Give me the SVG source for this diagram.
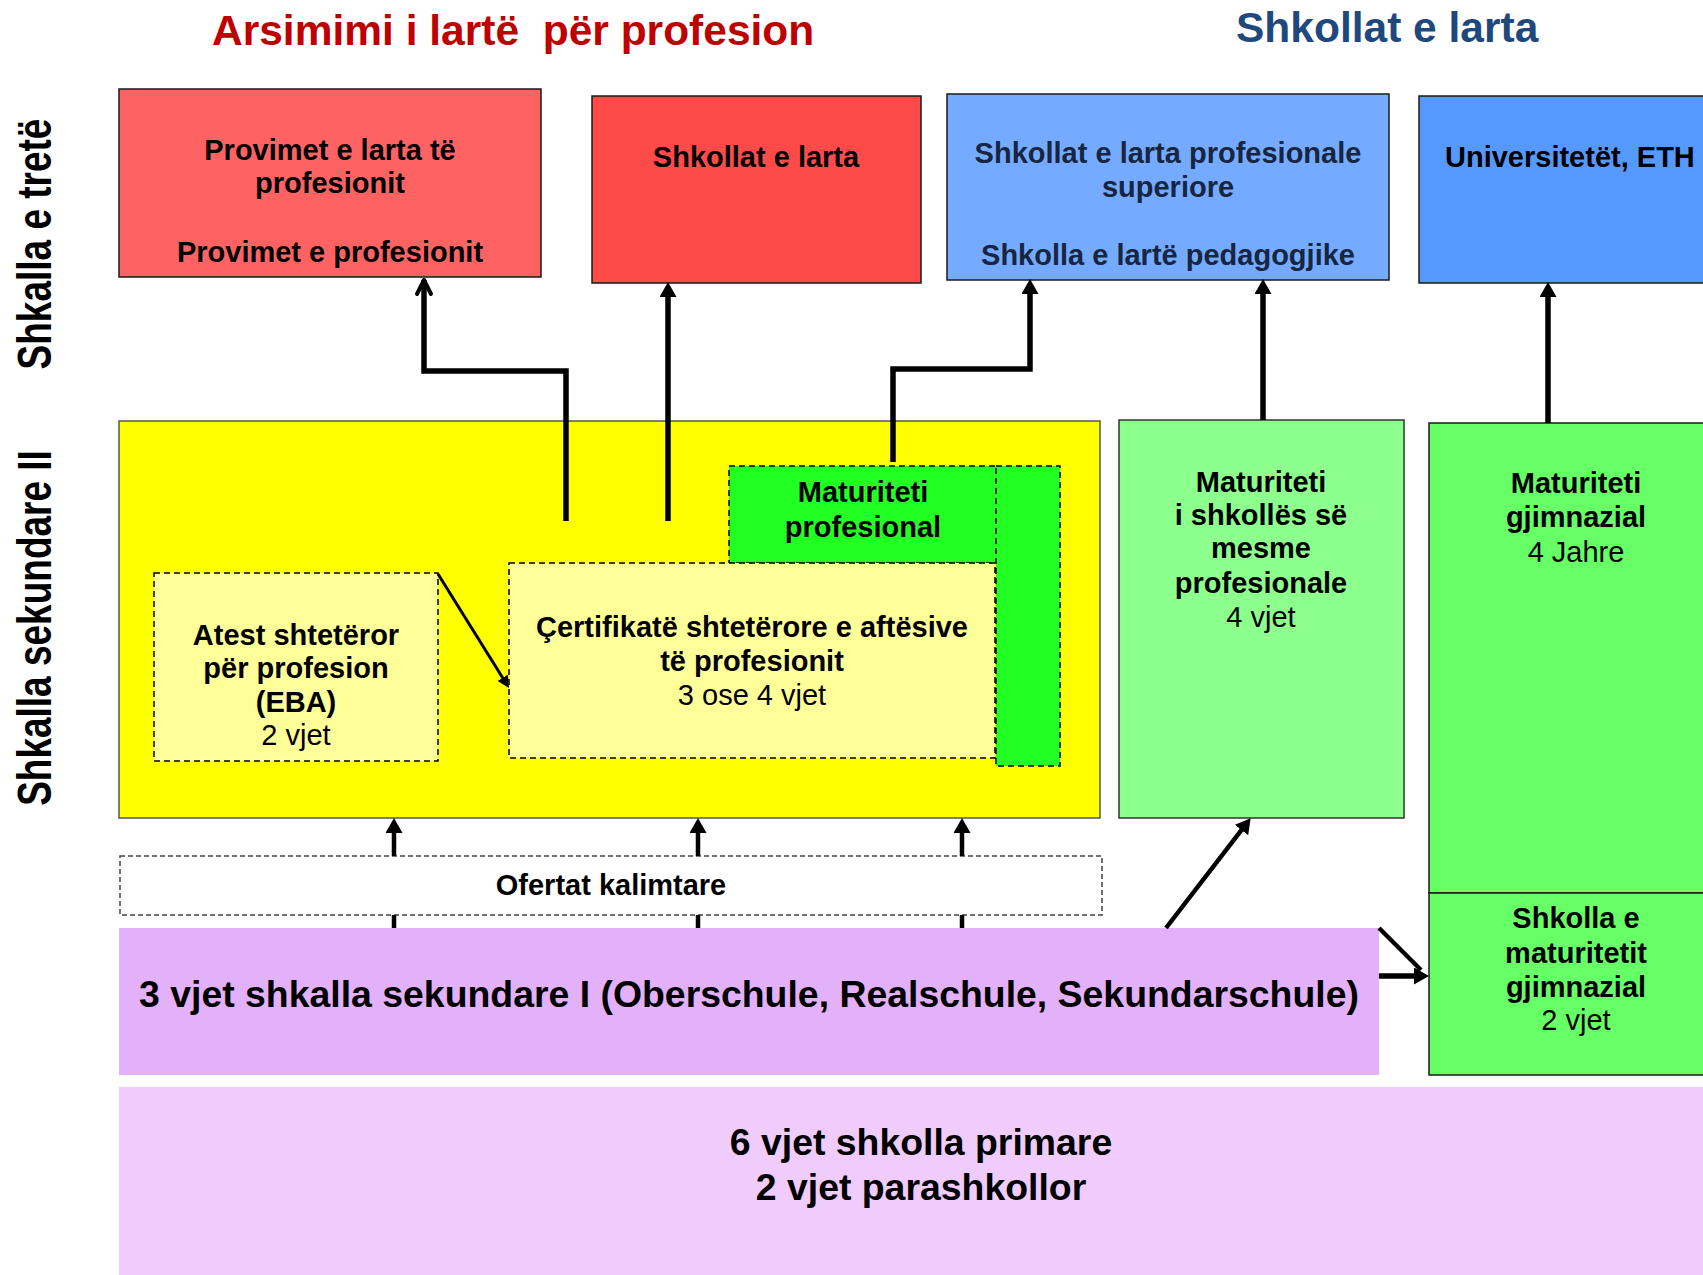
<svg xmlns="http://www.w3.org/2000/svg" width="1703" height="1275" viewBox="0 0 1703 1275">
<style>
.t{font-family:"Liberation Sans",Arial,sans-serif;text-anchor:middle;fill:#000;font-size:29px}
.b{font-weight:bold}
.big{font-size:37.4px;font-weight:bold}
.title{font-size:42.5px;font-weight:bold;text-anchor:start;white-space:pre}
.lab{font-size:37px;font-weight:bold}
.box{stroke:#1a1a1a;stroke-width:1.5}
.dash{stroke:#000;stroke-width:1.5;stroke-dasharray:6 4}
.conn{stroke:#000;stroke-width:5.5;fill:none}
.thin{stroke:#000;stroke-width:4.5;fill:none}
</style>
<defs>
<marker id="ah" viewBox="0 0 15 17" refX="4" refY="8.5" markerWidth="15" markerHeight="17" markerUnits="userSpaceOnUse" orient="auto">
<path d="M0,0 L15,8.5 L0,17 z" fill="#000"/>
</marker>
<marker id="ahs" viewBox="0 0 12 12" refX="4" refY="6" markerWidth="12" markerHeight="12" markerUnits="userSpaceOnUse" orient="auto">
<path d="M0,0 L12,6 L0,12 z" fill="#000"/>
</marker>
<marker id="open" viewBox="0 0 20 20" refX="17" refY="10" markerWidth="20" markerHeight="20" markerUnits="userSpaceOnUse" orient="auto">
<path d="M3,3 L17,10 L3,17" fill="none" stroke="#000" stroke-width="4" stroke-linecap="round" stroke-linejoin="round"/>
</marker>
</defs>

<g id="titles">
<text class="t title" x="212" y="45" style="fill:#c00000">Arsimimi i lartë  për profesion</text>
<text class="t title" x="1236" y="42" style="fill:#1f497d">Shkollat e larta</text>
</g>

<g id="label-tertiary">
<text class="t lab" transform="translate(51,244) rotate(-90) scale(1,1.3)" x="0" y="0">Shkalla e tretë</text>
</g>
<g id="label-secondary2">
<text class="t lab" transform="translate(51,628) rotate(-90) scale(1,1.3)" x="0" y="0">Shkalla sekundare II</text>
</g>

<g id="node-provimet">
<rect class="box" x="119" y="89" width="422" height="188" fill="#ff6262"/>
<text class="t b" x="330" y="160">Provimet e larta të</text>
<text class="t b" x="330" y="193">profesionit</text>
<text class="t b" x="330" y="262">Provimet e profesionit</text>
</g>
<g id="node-shkollat-red">
<rect class="box" x="592" y="96" width="329" height="187" fill="#ff4a4a"/>
<text class="t b" x="756" y="167">Shkollat e larta</text>
</g>
<g id="node-shkollat-prof">
<rect class="box" x="947" y="94" width="442" height="186" fill="#74aaff"/>
<text class="t b" x="1168" y="163" style="fill:#17253f">Shkollat e larta profesionale</text>
<text class="t b" x="1168" y="197" style="fill:#17253f">superiore</text>
<text class="t b" x="1168" y="265" style="fill:#17253f">Shkolla e lartë pedagogjike</text>
</g>
<g id="node-universitetet">
<rect class="box" x="1419" y="96" width="300" height="187" fill="#5599fd"/>
<text class="t b" x="1445" y="167" style="text-anchor:start">Universitetët, ETH</text>
</g>

<g id="node-yellow">
<rect x="119" y="421" width="981" height="397" fill="#ffff00" stroke="#555" stroke-width="1.5"/>
</g>
<g id="node-eba">
<rect class="dash" x="154" y="573" width="284" height="188" fill="#ffff99"/>
<text class="t b" x="296" y="645">Atest shtetëror</text>
<text class="t b" x="296" y="678">për profesion</text>
<text class="t b" x="296" y="712">(EBA)</text>
<text class="t" x="296" y="745">2 vjet</text>
</g>
<g id="node-maturiteti-prof">
<rect class="dash" x="729" y="466" width="268" height="97" fill="#22ff22"/>
<text class="t b" x="863" y="502">Maturiteti</text>
<text class="t b" x="863" y="537">profesional</text>
</g>
<g id="node-certifikate">
<rect class="dash" x="509" y="563" width="486" height="195" fill="#ffff99"/>
<text class="t b" x="752" y="637">Çertifikatë shtetërore e aftësive</text>
<text class="t b" x="752" y="671">të profesionit</text>
<text class="t" x="752" y="705">3 ose 4 vjet</text>
</g>
<g id="node-green-strip">
<rect class="dash" x="996" y="466" width="64" height="300" fill="#22ff22"/>
</g>

<g id="node-maturiteti-mesme">
<rect x="1119" y="420" width="285" height="398" fill="#8cff8c" stroke="#333" stroke-width="1.5"/>
<text class="t b" x="1261" y="492">Maturiteti</text>
<text class="t b" x="1261" y="525">i shkollës së</text>
<text class="t b" x="1261" y="558">mesme</text>
<text class="t b" x="1261" y="593">profesionale</text>
<text class="t" x="1261" y="627">4 vjet</text>
</g>
<g id="node-maturiteti-gjimnazial">
<rect class="box" x="1429" y="423" width="300" height="470" fill="#66ff66"/>
<text class="t b" x="1576" y="493">Maturiteti</text>
<text class="t b" x="1576" y="527">gjimnazial</text>
<text class="t" x="1576" y="562">4 Jahre</text>
</g>
<g id="node-shkolla-maturitetit">
<rect class="box" x="1429" y="893" width="300" height="182" fill="#66ff66"/>
<text class="t b" x="1576" y="928">Shkolla e</text>
<text class="t b" x="1576" y="963">maturitetit</text>
<text class="t b" x="1576" y="997">gjimnazial</text>
<text class="t" x="1576" y="1030">2 vjet</text>
</g>

<g id="node-ofertat">
<rect x="120" y="856" width="982" height="59" fill="#fff" stroke="#444" stroke-width="1.5" stroke-dasharray="5 3"/>
<text class="t b" x="611" y="895">Ofertat kalimtare</text>
</g>
<g id="node-sekundare1">
<rect x="119" y="928" width="1260" height="147" fill="#e3b1f9"/>
<text class="t big" x="749" y="1007">3 vjet shkalla sekundare I (Oberschule, Realschule, Sekundarschule)</text>
</g>
<g id="node-primare">
<rect x="119" y="1087" width="1600" height="200" fill="#efccfc"/>
<text class="t big" x="921" y="1155">6 vjet shkolla primare</text>
<text class="t big" x="921" y="1200">2 vjet parashkollor</text>
</g>

<g id="connectors">
<path class="conn" d="M566,521 V371 H424 V280" marker-end="url(#open)"/>
<path class="conn" d="M668,521 V293" marker-end="url(#ah)"/>
<path class="conn" d="M893,462 V369 H1030 V290" marker-end="url(#ah)"/>
<path class="conn" d="M1263,420 V290" marker-end="url(#ah)"/>
<path class="conn" d="M1548,423 V293" marker-end="url(#ah)"/>
<path class="thin" style="stroke-width:3" d="M438,574 L504.8,681.2" marker-end="url(#ahs)"/>
<path class="thin" d="M394,856 V829" marker-end="url(#ah)"/>
<path class="thin" d="M394,928 V915"/>
<path class="thin" d="M698,856 V829" marker-end="url(#ah)"/>
<path class="thin" d="M698,928 V915"/>
<path class="thin" d="M962,856 V829" marker-end="url(#ah)"/>
<path class="thin" d="M962,928 V915"/>
<path class="thin" d="M1166,928 L1243.9,826.9" marker-end="url(#ah)"/>
<path class="thin" d="M1379,928 L1421,970"/>
<path class="conn" d="M1379,976 H1418" marker-end="url(#ah)"/>
</g>
</svg>
